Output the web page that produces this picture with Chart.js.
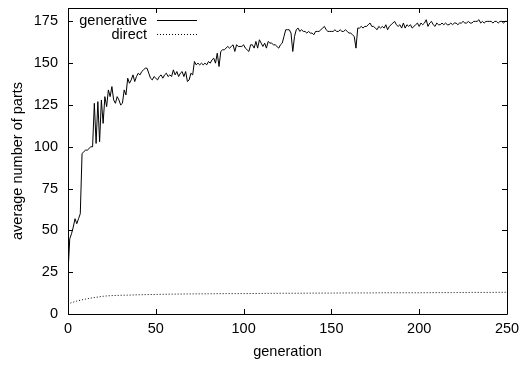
<!DOCTYPE html>
<html>
<head>
<meta charset="utf-8">
<script src="https://cdn.jsdelivr.net/npm/chart.js@4.4.0/dist/chart.umd.min.js"></script>
<style>
html,body{margin:0;padding:0;background:#fff;}
#wrap{width:524px;height:367px;}
</style>
</head>
<body>
<div id="wrap"><canvas id="c" width="524" height="367"></canvas></div>
<script>
const seriesNames = ['generative', 'direct'];
const xTicks = [0, 50, 100, 150, 200, 250];
const yTicks = [0, 25, 50, 75, 100, 125, 150, 175];

// generative: average number of parts per generation 0..250
const generative = [
 25,45,48,52,57,54,57,60,96,97,
 98,98,99,100,100,126,102,127,103,128,
 114,130,124,134,130,136,128,126,130,128,
 125,126,134,131,141,138,140,143,139,142,
 144,143,145,146,147,147,144,141,140,142,
 141,140,142,143,141,143,144,142,143,142,
 146,143,145,142,144,145,142,145,139,140,
 144,143,151,149,150,149,150,149,150,149,
 151,150,152,153,150,156,148,157,158,158,
 159,160,159,160,161,157,161,160,160,160,
 161,159,158,157,161,161,159,163,159,164,
 162,160,162,159,163,162,162,161,161,160,
 159,161,162,166,170,170,170,168,157,166,
 170,171,169,170,169,169,168,169,168,168,
 167,169,169,169,170,171,172,170,169,169,
 169,169,170,169,169,170,169,169,170,169,
 168,168,167,166,159,171,171,172,171,172,
 172,173,174,172,172,171,170,172,171,172,
 171,173,170,172,173,174,175,173,172,173,
 171,174,171,173,172,173,171,172,173,174,
 172,174,173,174,176,172,174,175,173,172,
 174,173,173,174,173,174,173,173,174,173,
 174,174,173,174,174,175,174,174,175,174,
 174,175,175,175,176,174,175,174,175,175,
 175,175,174,175,175,174,175,175,174,175,
 175
];
const generations = generative.map((v, i) => i);

// direct: sampled generations and values
const directGen = [0,1,2,3,4,5,6,8,10,12,14,16,18,20,22,25,30,35,40,45,50,55,60,70,80,90,100,110,120,130,140,150,160,170,180,190,200,210,220,230,240,250];
const directVal = [5.5,6.3,6.8,7.1,7.4,7.7,8.0,8.5,8.9,9.3,9.7,10.0,10.3,10.6,10.8,11.0,11.2,11.3,11.5,11.6,11.7,11.8,11.9,12.0,12.1,12.2,12.2,12.3,12.4,12.4,12.5,12.5,12.6,12.6,12.7,12.7,12.7,12.8,12.8,12.9,12.9,13.0];

const FONT = 'Liberation Sans, Arial, Helvetica, sans-serif';
const FS = 14.5;

const frameTicks = {
  id: 'frameTicks',
  afterDatasetsDraw(chart) {
    const {ctx, chartArea: a, scales: {x, y}} = chart;
    ctx.save();
    ctx.strokeStyle = '#000';
    ctx.lineWidth = 1;
    ctx.beginPath();
    ctx.rect(Math.round(a.left) + 0.5, Math.round(a.top) + 0.5, Math.round(a.right - a.left), Math.round(a.bottom - a.top));
    ctx.stroke();
    const L = 5;
    ctx.beginPath();
    xTicks.forEach(t => {
      const px = Math.round(x.getPixelForValue(t)) + 0.5;
      ctx.moveTo(px, a.bottom); ctx.lineTo(px, a.bottom - L);
      ctx.moveTo(px, a.top); ctx.lineTo(px, a.top + L);
    });
    yTicks.forEach(t => {
      const py = Math.round(y.getPixelForValue(t)) + 0.5;
      ctx.moveTo(a.left, py); ctx.lineTo(a.left + L, py);
      ctx.moveTo(a.right, py); ctx.lineTo(a.right - L, py);
    });
    ctx.stroke();

    // legend (gnuplot style)
    ctx.font = FS + 'px ' + FONT;
    ctx.fillStyle = '#000';
    ctx.textAlign = 'right';
    ctx.textBaseline = 'middle';
    const rows = [21, 35];
    chart.data.datasets.forEach((ds, i) => {
      ctx.fillText(ds.label, 147, rows[i]);
      ctx.beginPath();
      ctx.setLineDash(ds.borderDash || []);
      ctx.moveTo(157, rows[i] - 0.5);
      ctx.lineTo(197, rows[i] - 0.5);
      ctx.stroke();
    });
    ctx.restore();
  }
};

new Chart(document.getElementById('c'), {
  type: 'line',
  data: {
    datasets: [
      {
        label: seriesNames[0],
        data: generations.map((g, i) => ({x: g, y: generative[i]})),
        borderColor: '#000',
        borderWidth: 1,
        pointRadius: 0,
        tension: 0,
        fill: false
      },
      {
        label: seriesNames[1],
        data: directGen.map((g, i) => ({x: g, y: directVal[i]})),
        borderColor: '#000',
        borderWidth: 1,
        borderDash: [1, 2],
        pointRadius: 0,
        tension: 0,
        fill: false
      }
    ]
  },
  options: {
    responsive: false,
    animation: false,
    devicePixelRatio: 1,
    layout: {padding: {top: 8, right: 17, left: 0, bottom: 0}},
    plugins: {legend: {display: false}, tooltip: {enabled: false}},
    scales: {
      x: {
        type: 'linear',
        min: 0, max: 250,
        afterBuildTicks: s => { s.ticks = xTicks.map(v => ({value: v})); },
        afterFit: s => { s.height = 53; s.paddingLeft = 0; s.paddingRight = 0; },
        grid: {display: false, drawTicks: false},
        border: {display: false},
        ticks: {color: '#000', padding: 6, maxRotation: 0, font: {family: FONT, size: FS}},
        title: {display: true, text: 'generation', color: '#000', padding: {top: 0, bottom: 6}, font: {family: FONT, size: FS}}
      },
      y: {
        type: 'linear',
        min: 0, max: 183,
        afterBuildTicks: s => { s.ticks = yTicks.map(v => ({value: v})); },
        afterFit: s => { s.width = 68; s.paddingTop = 0; s.paddingBottom = 0; },
        grid: {display: false, drawTicks: false},
        border: {display: false},
        ticks: {color: '#000', padding: 10, font: {family: FONT, size: FS}},
        title: {display: true, text: 'average number of parts', color: '#000', padding: {top: 9, bottom: 0}, font: {family: FONT, size: FS}}
      }
    }
  },
  plugins: [frameTicks]
});
</script>
</body>
</html>
